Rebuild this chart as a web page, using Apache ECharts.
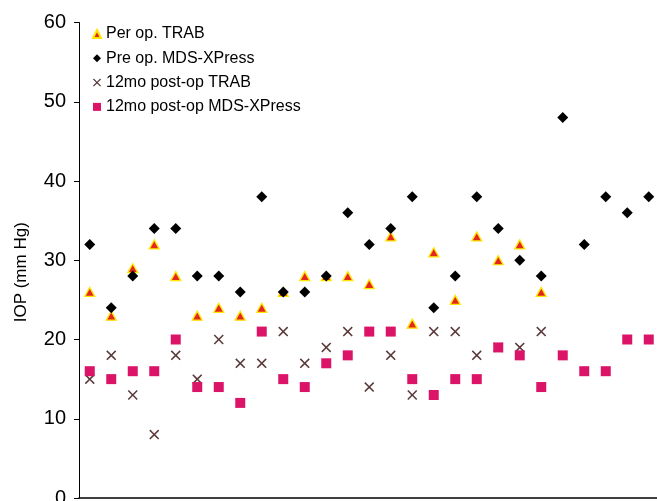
<!DOCTYPE html>
<html>
<head>
<meta charset="utf-8">
<script src="https://cdn.jsdelivr.net/npm/echarts@6/dist/echarts.min.js"></script>
<style>html,body{margin:0;padding:0;background:#fff;}#c{width:657px;height:501px;}</style>
</head>
<body>
<div id="c"></div>
<script>
var categories = ['1','2','3','4','5','6','7','8','9','10','11','12','13','14','15','16','17','18','19','20','21','22','23','24','25','26','27'];
var preTRAB = [26,23,29,32,28,23,24,23,24,26,28,28,28,27,33,22,31,25,33,30,32,26,null,null,null,null,null];
var preMDS = [32,24,28,34,34,28,28,26,38,26,26,28,36,32,34,38,24,28,38,34,30,28,48,32,38,36,38];
var postTRAB = [15,18,13,8,18,15,20,17,17,21,17,19,21,14,18,13,21,21,18,19,19,21,null,null,null,null,null];
var postMDS = [16,15,16,16,20,14,14,12,21,15,14,17,18,21,21,15,13,15,15,19,18,14,18,16,16,20,20];
var yTicks = [0,10,20,30,40,50,60];

var FONT = '"Liberation Sans", Arial, sans-serif';
var xPath = 'path://M0,1.1L1.1,0L5,3.9L8.9,0L10,1.1L6.1,5L10,8.9L8.9,10L5,6.1L1.1,10L0,8.9L3.9,5Z';

var chart = echarts.init(document.getElementById('c'), null, {renderer: 'canvas'});
chart.setOption({
  animation: false,
  backgroundColor: '#ffffff',
  grid: {left: 79, top: 22.5, width: 580.5, height: 475.5, containLabel: false, outerBoundsMode: 'none'},
  legend: {
    orient: 'vertical',
    left: 92,
    top: 26,
    padding: 0,
    itemWidth: 8,
    itemHeight: 8,
    itemGap: 8.3,
    textStyle: {fontFamily: FONT, fontSize: 16, color: '#000', lineHeight: 16},
    data: ['Per op. TRAB', 'Pre op. MDS-XPress', '12mo post-op TRAB', '12mo post-op MDS-XPress']
  },
  xAxis: {
    type: 'category',
    data: categories,
    boundaryGap: true,
    axisLine: {show: true, lineStyle: {color: '#000', width: 1.5}},
    axisTick: {show: false},
    axisLabel: {show: false},
    splitLine: {show: false}
  },
  yAxis: {
    type: 'value',
    min: yTicks[0],
    max: yTicks[yTicks.length - 1],
    interval: 10,
    name: 'IOP (mm Hg)',
    nameLocation: 'middle',
    nameRotate: 90,
    nameGap: 49,
    nameTextStyle: {fontFamily: FONT, fontSize: 17, color: '#000', padding: [0, 24, 0, 0]},
    axisLine: {show: true, lineStyle: {color: '#000', width: 1}},
    axisTick: {show: true, length: 5, inside: false, lineStyle: {color: '#000'}},
    axisLabel: {fontFamily: FONT, fontSize: 20, color: '#000', margin: 13},
    splitLine: {show: false}
  },
  series: [
    {
      name: 'Per op. TRAB', type: 'scatter', data: preTRAB,
      symbol: 'triangle', symbolSize: [10, 9],
      itemStyle: {color: '#e3261f', borderColor: '#ffe600', borderWidth: 1.3, opacity: 1}
    },
    {
      name: 'Pre op. MDS-XPress', type: 'scatter', data: preMDS,
      symbol: 'diamond', symbolSize: [11, 11],
      itemStyle: {color: '#000000', opacity: 1}
    },
    {
      name: '12mo post-op TRAB', type: 'scatter', data: postTRAB,
      symbol: xPath, symbolSize: [10, 10],
      itemStyle: {color: '#5b3a3a', opacity: 1}
    },
    {
      name: '12mo post-op MDS-XPress', type: 'scatter', data: postMDS,
      symbol: 'rect', symbolSize: [10, 10],
      itemStyle: {color: '#dc1468', opacity: 1}
    }
  ]
});
</script>
</body>
</html>
